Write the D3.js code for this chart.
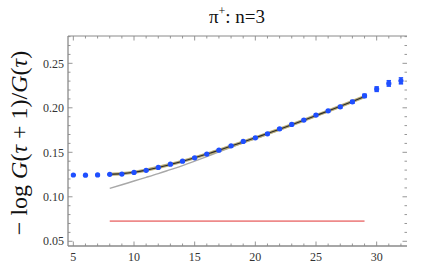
<!DOCTYPE html>
<html>
<head>
<meta charset="utf-8">
<script src="https://cdn.jsdelivr.net/npm/d3@7"></script>
<style>
  body { margin: 0; background: #fff; }
</style>
</head>
<body>
<div id="chart"></div>
<script>
// data
const tau = [5,6,7,8,9,10,11,12,13,14,15,16,17,18,19,20,21,22,23,24,25,26,27,28,29,30,31,32];
const ratio = [0.1245,0.1243,0.1246,0.1252,0.1255,0.1274,0.1297,0.1330,0.1367,0.1400,0.1438,0.1480,0.1524,0.1573,0.1622,0.1663,0.1708,0.1764,0.1813,0.1862,0.1918,0.1966,0.2011,0.2067,0.2135,0.2210,0.2274,0.2303];
const ratioErr = [0.0003,0.0003,0.0003,0.0004,0.0004,0.0004,0.0005,0.0005,0.0005,0.0006,0.0006,0.0006,0.0007,0.0007,0.0008,0.0008,0.0009,0.0009,0.001,0.001,0.0011,0.0012,0.0013,0.0015,0.0018,0.0025,0.003,0.0033];

const fitTau = [8,9,10,11,12,13,14,15,16,17,18,19,20,21,22,23,24,25,26,27,28,29];
const fitVal = [0.1252,0.1260,0.1276,0.1300,0.1330,0.1364,0.1400,0.1439,0.1480,0.1523,0.1570,0.1616,0.1664,0.1711,0.1760,0.1810,0.1861,0.1913,0.1965,0.2018,0.2072,0.2127];

const approxTau = [8,9,10,11,12,13,14,15,16,17,18,19,20,22,24,26,28,29];
const approxVal = [0.1094,0.1135,0.1177,0.1218,0.1260,0.1305,0.1350,0.1400,0.1452,0.1505,0.1556,0.1607,0.1652,0.1753,0.1855,0.1958,0.2063,0.2122];

const plateauTau = [8, 29];
const plateauVal = [0.0727, 0.0727];

const xTicks = [5,10,15,20,25,30];
const yTicks = [0.05,0.10,0.15,0.20,0.25];

const W = 436, H = 270;
const margin = {top: 36, right: 29, bottom: 24, left: 68};
const serif = "'Liberation Serif', 'DejaVu Serif', serif";

const svg = d3.select("#chart").append("svg")
    .attr("width", W)
    .attr("height", H);

const x = d3.scaleLinear().domain([4.56, 32.5]).range([margin.left, W - margin.right]);
const y = d3.scaleLinear().domain([0.0447, 0.2807]).range([H - margin.bottom, margin.top]);

const frameColor = "#8a8a8a";

// frame lines (right side shows ticks only)
const x0 = x.range()[0], x1 = x.range()[1], y0 = y.range()[0], y1 = y.range()[1];
svg.append("line").attr("x1", x0).attr("x2", x1).attr("y1", y0).attr("y2", y0)
   .attr("stroke", frameColor).attr("stroke-width", 1.3);
svg.append("line").attr("x1", x0).attr("x2", x1).attr("y1", y1).attr("y2", y1)
   .attr("stroke", frameColor).attr("stroke-width", 1);
svg.append("line").attr("x1", x0).attr("x2", x0).attr("y1", y0).attr("y2", y1)
   .attr("stroke", frameColor).attr("stroke-width", 1.3);

// minor + major ticks, pointing inward on all sides
const xMinor = d3.range(5, 33, 1);
const yMinor = d3.range(5, 29, 1).map(d => d / 100);
const isMajX = d => d % 5 === 0;
const isMajY = d => Math.round(d * 100) % 5 === 0;

const ticks = svg.append("g").attr("stroke", frameColor).attr("stroke-width", 0.9);
xMinor.forEach(d => {
  const len = isMajX(d) ? 4.5 : 2.5;
  ticks.append("line").attr("x1", x(d)).attr("x2", x(d)).attr("y1", y0).attr("y2", y0 - len);
  ticks.append("line").attr("x1", x(d)).attr("x2", x(d)).attr("y1", y1).attr("y2", y1 + len);
});
yMinor.forEach(d => {
  const len = isMajY(d) ? 4.5 : 2.5;
  ticks.append("line").attr("x1", x0).attr("x2", x0 + len).attr("y1", y(d)).attr("y2", y(d));
  ticks.append("line").attr("x1", x1).attr("x2", x1 - len).attr("y1", y(d)).attr("y2", y(d));
});

// tick labels
svg.append("g").selectAll("text").data(xTicks).enter().append("text")
    .attr("x", d => x(d)).attr("y", 261)
    .attr("text-anchor", "middle")
    .attr("font-family", serif)
    .attr("font-size", 12).attr("fill", "#333")
    .text(d => d);
svg.append("g").selectAll("text").data(yTicks).enter().append("text")
    .attr("x", 64).attr("y", d => y(d)).attr("dy", "0.35em")
    .attr("text-anchor", "end")
    .attr("font-family", serif)
    .attr("font-size", 12).attr("fill", "#333")
    .text(d => d.toFixed(2));

// plateau line
const line = d3.line().x(d => x(d[0])).y(d => y(d[1]));
svg.append("path")
    .datum(d3.zip(plateauTau, plateauVal))
    .attr("d", line)
    .attr("fill", "none").attr("stroke", "#ee8a8a").attr("stroke-width", 1.6);

// approximate curve (gray)
const smooth = d3.line().curve(d3.curveMonotoneX).x(d => x(d[0])).y(d => y(d[1]));
svg.append("path")
    .datum(d3.zip(approxTau, approxVal))
    .attr("d", smooth)
    .attr("fill", "none").attr("stroke", "#a8a8a8").attr("stroke-width", 1.4);

// fit curve: tan halo under a dark line
svg.append("path")
    .datum(d3.zip(fitTau, fitVal))
    .attr("d", smooth)
    .attr("fill", "none").attr("stroke", "#b9ad7a").attr("stroke-width", 3.2);
svg.append("path")
    .datum(d3.zip(fitTau, fitVal))
    .attr("d", smooth)
    .attr("fill", "none").attr("stroke", "#2a2a2a").attr("stroke-width", 1.1);

// data points with error bars
const pts = d3.zip(tau, ratio, ratioErr);
const blue = "#1f4fff";
const eb = svg.append("g").attr("stroke", blue).attr("stroke-width", 1.6);
pts.forEach(([t, v, e]) => {
  eb.append("line").attr("x1", x(t)).attr("x2", x(t)).attr("y1", y(v - e)).attr("y2", y(v + e));
  eb.append("line").attr("x1", x(t) - 2.2).attr("x2", x(t) + 2.2).attr("y1", y(v - e)).attr("y2", y(v - e));
  eb.append("line").attr("x1", x(t) - 2.2).attr("x2", x(t) + 2.2).attr("y1", y(v + e)).attr("y2", y(v + e));
});
svg.append("g").selectAll("circle").data(pts).enter().append("circle")
    .attr("cx", d => x(d[0])).attr("cy", d => y(d[1]))
    .attr("r", 2.6).attr("fill", blue);

// title
const title = svg.append("text")
    .attr("x", 237).attr("y", 23)
    .attr("text-anchor", "middle")
    .attr("font-family", serif)
    .attr("font-size", 19).attr("fill", "#111");
title.append("tspan").text("π");
title.append("tspan").attr("font-size", 12).attr("dy", -8).text("+");
title.append("tspan").attr("dy", 8).text(": n=3");

// y axis label
const ylab = svg.append("text")
    .attr("transform", "translate(27,143) rotate(-90)")
    .attr("text-anchor", "middle")
    .attr("font-family", serif)
    .attr("font-size", 24).attr("fill", "#111");
ylab.append("tspan").text("− log ");
ylab.append("tspan").attr("font-style", "italic").text("G");
ylab.append("tspan").text("(");
ylab.append("tspan").attr("font-style", "italic").text("τ");
ylab.append("tspan").text(" + 1)/");
ylab.append("tspan").attr("font-style", "italic").text("G");
ylab.append("tspan").text("(");
ylab.append("tspan").attr("font-style", "italic").text("τ");
ylab.append("tspan").text(")");
</script>
</body>
</html>
